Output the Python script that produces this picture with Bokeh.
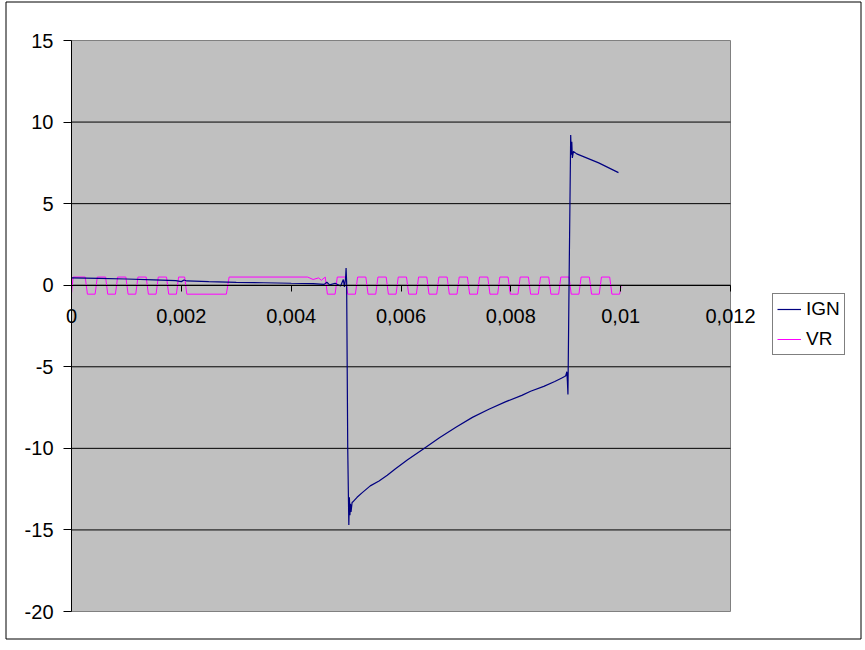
from bokeh.plotting import figure
from bokeh.models import (Range1d, FixedTicker, CustomJSTickFormatter, Legend,
                          LegendItem, BoxAnnotation)
from bokeh.embed import file_html
from bokeh.resources import INLINE

# ---- data ----
ign_t = [0.0, 0.0005, 0.0010, 0.0015, 0.0019, 0.00200, 0.00205, 0.00210, 0.0025, 0.0030,
         0.0035, 0.0040, 0.0044, 0.00460, 0.00465, 0.00470, 0.00480, 0.00490, 0.00495,
         0.00497, 0.00499, 0.00500, 0.00501, 0.00503, 0.00505, 0.00506, 0.00507, 0.00508,
         0.00509, 0.00511, 0.00512, 0.00520, 0.00530, 0.00544, 0.00560, 0.00575, 0.00590,
         0.00612, 0.00640, 0.00670, 0.00700, 0.00730, 0.00760, 0.00790, 0.00820, 0.00836,
         0.00860, 0.00880, 0.00892, 0.00898, 0.00900, 0.00902, 0.00903, 0.00904, 0.00906,
         0.00909, 0.00910, 0.00911, 0.00912, 0.00914, 0.00920, 0.00960, 0.00996]
ign_v = [0.45, 0.42, 0.38, 0.33, 0.28, 0.22, 0.32, 0.26, 0.22, 0.18,
         0.15, 0.12, 0.10, 0.05, 0.18, 0.02, 0.12, -0.05, 0.35,
         -0.1, 0.4, 1.05, 0.2, -10.0, -14.7, -13.0, -14.1, -13.4,
         -13.9, -13.3, -13.3, -13.0, -12.7, -12.3, -12.0, -11.65, -11.25,
         -10.7, -10.05, -9.35, -8.7, -8.1, -7.6, -7.15, -6.75, -6.5,
         -6.2, -5.9, -5.7, -5.6, -5.55, -5.3, -5.9, -6.7, 0.0,
         9.2, 8.0, 8.8, 7.8, 8.2, 8.05, 7.5, 6.9]

vr_t = [0.0, 0.00003,
        0.00025, 0.00029, 0.00043, 0.00047,
        0.00062, 0.00066, 0.00080, 0.00084,
        0.00099, 0.00103, 0.00117, 0.00121,
        0.00136, 0.00140, 0.00154, 0.00158,
        0.00173, 0.00177, 0.00191, 0.00195,
        0.00206, 0.00210, 0.00282, 0.00287,
        0.00430, 0.00440, 0.00450, 0.00455,
        0.00462, 0.00466, 0.00480, 0.00484,
        0.00499, 0.00503, 0.00517, 0.00521,
        0.00536, 0.00540, 0.00554, 0.00558,
        0.00573, 0.00577, 0.00591, 0.00595,
        0.00610, 0.00614, 0.00628, 0.00632,
        0.00647, 0.00651, 0.00665, 0.00669,
        0.00684, 0.00688, 0.00702, 0.00706,
        0.00721, 0.00725, 0.00739, 0.00743,
        0.00758, 0.00762, 0.00776, 0.00780,
        0.00795, 0.00799, 0.00813, 0.00817,
        0.00832, 0.00836, 0.00850, 0.00854,
        0.00869, 0.00873, 0.00887, 0.00891,
        0.00906, 0.00910, 0.00924, 0.00928,
        0.00943, 0.00947, 0.00961, 0.00965,
        0.00980, 0.00984, 0.00998, 0.01001]
vr_v = [-0.5, 0.5,
        0.5, -0.55, -0.55, 0.5,
        0.5, -0.55, -0.55, 0.5,
        0.5, -0.55, -0.55, 0.5,
        0.5, -0.55, -0.55, 0.5,
        0.5, -0.55, -0.55, 0.5,
        0.5, -0.55, -0.55, 0.5,
        0.5, 0.35, 0.45, 0.3,
        0.5, -0.55, -0.55, 0.5,
        0.5, -0.55, -0.55, 0.5,
        0.5, -0.55, -0.55, 0.5,
        0.5, -0.55, -0.55, 0.5,
        0.5, -0.55, -0.55, 0.5,
        0.5, -0.55, -0.55, 0.5,
        0.5, -0.55, -0.55, 0.5,
        0.5, -0.55, -0.55, 0.5,
        0.5, -0.55, -0.55, 0.5,
        0.5, -0.55, -0.55, 0.5,
        0.5, -0.55, -0.55, 0.5,
        0.5, -0.55, -0.55, 0.5,
        0.5, -0.55, -0.55, 0.5,
        0.5, -0.55, -0.55, 0.5,
        0.5, -0.55, -0.55, 0.0]

y_ticks = [-20, -15, -10, -5, 0, 5, 10, 15]
y_grid = [-15, -10, -5, 0, 5, 10]
x_ticks = [0, 0.002, 0.004, 0.006, 0.008, 0.01, 0.012]
series_names = ["IGN", "VR"]

# ---- layout (pixels) ----
FONT = "Liberation Sans"
W, H = 862, 645
PX_L, PX_R, PX_T, PX_B = 71, 730, 40, 611   # plot-area edges on the canvas
x0, x1 = x_ticks[0], x_ticks[-1]
y0, y1 = y_ticks[0], y_ticks[-1]
sx = (PX_R - PX_L) / (x1 - x0)
sy = (PX_B - PX_T) / (y1 - y0)
x_range = Range1d(x0 - PX_L / sx, x0 + (W - PX_L) / sx)
y_range = Range1d(y0 - (H - PX_B) / sy, y1 + PX_T / sy)

p = figure(width=W, height=H, output_backend="svg", toolbar_location=None,
           x_range=x_range, y_range=y_range,
           min_border_left=0, min_border_right=0, min_border_top=0, min_border_bottom=0)
p.background_fill_color = "white"
p.border_fill_color = "white"
p.outline_line_color = None
p.xgrid.visible = False
p.ygrid.visible = False

# chart-area border
p.add_layout(BoxAnnotation(left=5.5, right=860.5, top=6.5, bottom=643.5,
                           left_units="screen", right_units="screen",
                           top_units="screen", bottom_units="screen",
                           fill_color=None, fill_alpha=0,
                           line_color="black", line_alpha=1.0, line_width=1))

# grey plot area
p.quad(left=[x0], right=[x1], bottom=[y0], top=[y1],
       fill_color="#C0C0C0", line_color="#808080", line_width=1)
# horizontal gridlines
p.segment(x0=[x0] * len(y_grid), x1=[x1] * len(y_grid), y0=y_grid, y1=y_grid,
          line_color="black", line_width=1)

# y axis at x = 0
ya = p.yaxis[0]
ya.fixed_location = x0
ya.bounds = (y0, y1)
ya.ticker = FixedTicker(ticks=y_ticks)
ya.formatter = CustomJSTickFormatter(code="return String(tick);")
ya.axis_line_color = "black"
ya.major_tick_line_color = "black"
ya.major_tick_out = 8
ya.major_tick_in = 0
ya.minor_tick_line_color = None
ya.major_label_standoff = 10
ya.major_label_text_font = FONT
ya.major_label_text_font_size = "20px"
ya.major_label_text_color = "black"

# x axis crossing at y = 0
xa = p.xaxis[0]
xa.fixed_location = 0
xa.bounds = (x0, x1)
xa.ticker = FixedTicker(ticks=x_ticks)
xa.formatter = CustomJSTickFormatter(code="return String(tick).replace('.', ',');")
xa.axis_line_color = "black"
xa.major_tick_line_color = "black"
xa.major_tick_out = 6
xa.major_tick_in = 0
xa.minor_tick_line_color = None
xa.major_label_standoff = 18
xa.major_label_text_font = FONT
xa.major_label_text_font_size = "20px"
xa.major_label_text_color = "black"

r_vr = p.line(vr_t, vr_v, line_color="#FF00FF", line_width=1)
r_ign = p.line(ign_t, ign_v, line_color="#000080", line_width=1.2)

legend = Legend(items=[LegendItem(label=series_names[0], renderers=[r_ign]),
                       LegendItem(label=series_names[1], renderers=[r_vr])],
                location=(772, H - 355))
legend.border_line_color = "black"
legend.border_line_width = 1
legend.background_fill_color = "white"
legend.background_fill_alpha = 1
legend.label_text_font = FONT
legend.label_text_font_size = "19px"
legend.label_text_color = "black"
legend.padding = 4
legend.spacing = 8
legend.label_height = 22
legend.glyph_height = 22
legend.glyph_width = 24
legend.label_standoff = 5
legend.margin = 0
p.add_layout(legend)

open("out.html", "w").write(file_html(p, INLINE))
